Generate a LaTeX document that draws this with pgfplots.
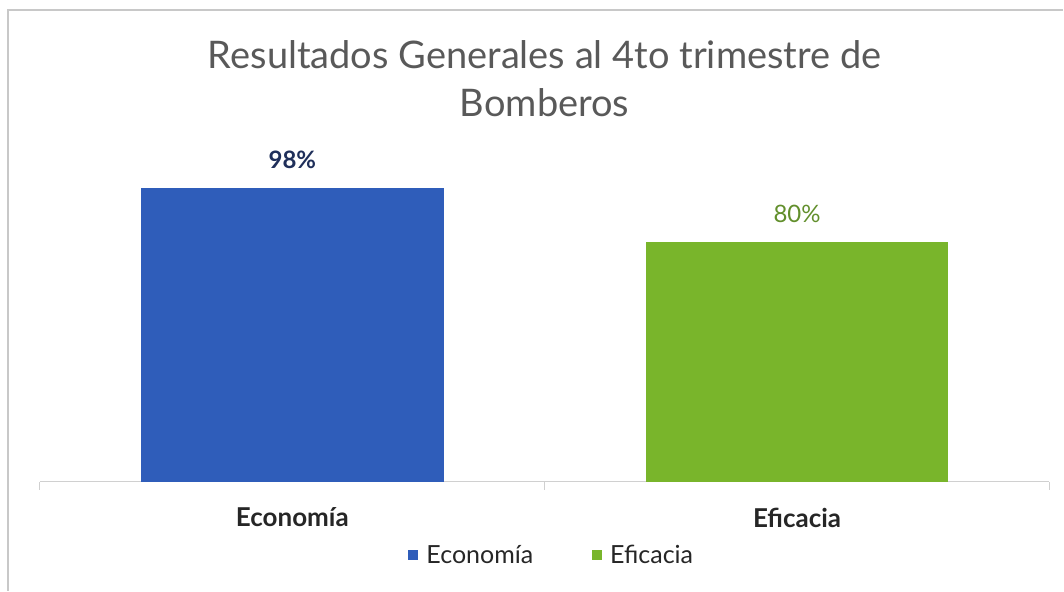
\documentclass[border=0pt]{standalone}
\usepackage{fontspec}
\setmainfont{Lato}
\usepackage{pgfplots}
\pgfplotsset{compat=1.18}
\definecolor{barblue}{HTML}{2F5DBA}
\definecolor{bargreen}{HTML}{79B52B}
\definecolor{axisgray}{HTML}{D0D0D0}
\definecolor{bordergray}{HTML}{C8C8C8}
\definecolor{titlegray}{HTML}{595959}
\definecolor{navy}{HTML}{1F2F5A}
\definecolor{darkgreen}{HTML}{628F2C}
\definecolor{labeldark}{HTML}{262626}
\begin{document}
\begin{tikzpicture}[x=1pt,y=1pt]
\path (-40,-109) rectangle (1024,482);
\draw[bordergray, line width=1.2pt] (-32,-109) -- (-32,472) -- (1024,472);
\begin{axis}[
  at={(0,0)}, anchor=south west,
  scale only axis, width=1010pt, height=360pt,
  xmin=-0.5, xmax=1.5, ymin=0, ymax=120,
  /pgf/number format/assume math mode=true,
  axis x line*=bottom, axis y line=none,
  x axis line style={axisgray, line width=1.2pt, -},
  xtick={0,1}, xticklabels={Economía, Eficacia},
  major tick length=0pt,
  minor xtick={-0.5,0.5,1.5},
  minor tick length=8pt,
  tick align=outside,
  minor tick style={axisgray, line width=1pt},
  xticklabel style={font=\fontsize{26}{30}\selectfont\bfseries, text=labeldark, inner sep=0pt, yshift=-26pt},
  title={Resultados Generales al 4to trimestre de\\Bomberos},
  title style={align=center, font=\fontsize{38}{48}\selectfont, text=titlegray, yshift=-4pt},
  legend style={at={(0.507,-0.203)}, anchor=center, draw=none, fill=none, legend columns=2,
    font=\fontsize{25}{28}\selectfont, text=labeldark,
    /tikz/every even column/.append style={column sep=57pt}},
  legend image code/.code={\fill[#1] (0pt,-5pt) rectangle (10pt,5pt); \path (16pt,0pt);},
  every node near coord/.append style={font=\fontsize{24}{28}\selectfont\bfseries, inner sep=0pt, anchor=south, yshift=19pt},
]
\addplot[ybar, bar width=303pt, bar shift=0pt, fill=barblue, draw=none,
  nodes near coords={\pgfmathprintnumber[fixed,precision=0,assume math mode=true]{\pgfplotspointmeta}\%},
  every node near coord/.append style={text=navy}]
  coordinates {(0,98)};
\addlegendentry{Economía}
\addplot[ybar, bar width=303pt, bar shift=0pt, fill=bargreen, draw=none,
  nodes near coords={\pgfmathprintnumber[fixed,precision=0,assume math mode=true]{\pgfplotspointmeta}\%},
  every node near coord/.append style={text=darkgreen, font=\fontsize{24}{28}\selectfont}]
  coordinates {(1,80)};
\addlegendentry{Eficacia}
\end{axis}
\end{tikzpicture}
\end{document}
